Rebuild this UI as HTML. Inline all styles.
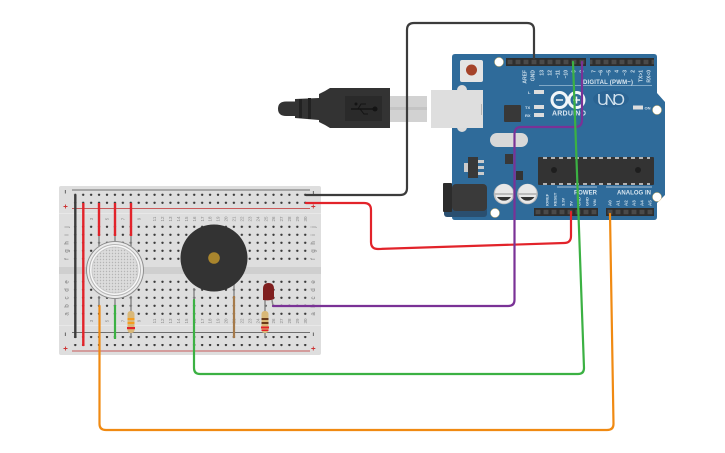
<!DOCTYPE html>
<html><head><meta charset="utf-8"><style>html,body{margin:0;padding:0;background:#fff}svg{display:block}text{font-family:"Liberation Sans",sans-serif}</style></head><body>
<svg width="725" height="453" viewBox="0 0 725 453" xmlns="http://www.w3.org/2000/svg">
<defs>
<pattern id="h1" x="71.3" y="0" width="7.93" height="8" patternUnits="userSpaceOnUse"><circle cx="3.97" cy="2.8" r="1.2" fill="#3a3a3a"/></pattern>
<pattern id="h2" x="71.3" y="0" width="7.93" height="8" patternUnits="userSpaceOnUse"><circle cx="3.97" cy="1.8" r="1.2" fill="#3a3a3a"/></pattern>
<pattern id="h3" x="71.3" y="0" width="7.93" height="8" patternUnits="userSpaceOnUse"><circle cx="3.97" cy="1" r="1.2" fill="#3a3a3a"/></pattern>
<pattern id="pin" x="506" y="58" width="8" height="8" patternUnits="userSpaceOnUse"><rect x="1.6" y="1.8" width="4.8" height="4.4" fill="#4a4a4a"/></pattern>
<pattern id="pin2" x="534" y="208" width="8" height="8" patternUnits="userSpaceOnUse"><rect x="1.6" y="1.8" width="4.8" height="4.4" fill="#4a4a4a"/></pattern>
<pattern id="mesh" width="3" height="3" patternUnits="userSpaceOnUse"><rect width="3" height="3" fill="#dcdcdc"/><circle cx="1.5" cy="1.5" r=".7" fill="#b4b4b4"/></pattern>
</defs>

<!-- breadboard -->
<rect x="59" y="186" width="262" height="169" rx="2" fill="#dedede"/>
<rect x="59" y="213" width="262" height="1" fill="#e8e8e8"/>
<rect x="59" y="325" width="262" height="1" fill="#e8e8e8"/>
<rect x="59" y="267" width="262" height="7" fill="#cfcfcf"/>
<rect x="71" y="192" width="240" height="16" fill="url(#h1)"/>
<rect x="71" y="224" width="240" height="40" fill="url(#h1)"/>
<rect x="71" y="280" width="240" height="40" fill="url(#h2)"/>
<rect x="71" y="335" width="240" height="12" fill="url(#h3)"/>
<path d="M72 190H310" stroke="#6f6f6f" stroke-width="1"/>
<path d="M72 208.500H310" stroke="#c85a5a" stroke-width="1"/>
<path d="M72 332.500H310" stroke="#6f6f6f" stroke-width="1"/>
<path d="M72 351H310" stroke="#c85a5a" stroke-width="1"/>
<path d="M65.300 190V193.500M313.300 191V194.500M65.300 332.500V336M313.300 332.500V336" stroke="#444" stroke-width=".8"/>
<path d="M63.500 206.500H67.500M65.500 204.500V208.500M311.300 206.500H315.300M313.300 204.500V208.500M63.500 348.500H67.500M65.500 346.500V350.500M311.300 348.500H315.300M313.300 346.500V350.500" stroke="#c33" stroke-width=".9"/>
<g font-size="6" fill="#777" text-anchor="middle">
<text transform="translate(68.500,227) rotate(-90)">j</text><text transform="translate(68.500,235) rotate(-90)">i</text><text transform="translate(68.500,243) rotate(-90)">h</text><text transform="translate(68.500,251) rotate(-90)">g</text><text transform="translate(68.500,259) rotate(-90)">f</text>
<text transform="translate(68.500,282) rotate(-90)">e</text><text transform="translate(68.500,290) rotate(-90)">d</text><text transform="translate(68.500,298) rotate(-90)">c</text><text transform="translate(68.500,306) rotate(-90)">b</text><text transform="translate(68.500,314) rotate(-90)">a</text>
<text transform="translate(315,227) rotate(-90)">j</text><text transform="translate(315,235) rotate(-90)">i</text><text transform="translate(315,243) rotate(-90)">h</text><text transform="translate(315,251) rotate(-90)">g</text><text transform="translate(315,259) rotate(-90)">f</text>
<text transform="translate(315,282) rotate(-90)">e</text><text transform="translate(315,290) rotate(-90)">d</text><text transform="translate(315,298) rotate(-90)">c</text><text transform="translate(315,306) rotate(-90)">b</text><text transform="translate(315,314) rotate(-90)">a</text>
</g>
<g font-size="4.500" fill="#888" text-anchor="middle">
<text transform="translate(92.800,219) rotate(-90)">3</text><text transform="translate(108.600,219) rotate(-90)">5</text><text transform="translate(124.500,219) rotate(-90)">7</text><text transform="translate(140.300,219) rotate(-90)">9</text><text transform="translate(156.200,219) rotate(-90)">11</text><text transform="translate(164.100,219) rotate(-90)">12</text><text transform="translate(172,219) rotate(-90)">13</text><text transform="translate(180,219) rotate(-90)">14</text><text transform="translate(187.900,219) rotate(-90)">15</text><text transform="translate(195.900,219) rotate(-90)">16</text><text transform="translate(203.800,219) rotate(-90)">17</text><text transform="translate(211.700,219) rotate(-90)">18</text><text transform="translate(219.700,219) rotate(-90)">19</text><text transform="translate(227.600,219) rotate(-90)">20</text><text transform="translate(235.500,219) rotate(-90)">21</text><text transform="translate(243.500,219) rotate(-90)">22</text><text transform="translate(251.400,219) rotate(-90)">23</text><text transform="translate(259.300,219) rotate(-90)">24</text><text transform="translate(267.300,219) rotate(-90)">25</text><text transform="translate(275.200,219) rotate(-90)">26</text><text transform="translate(283.100,219) rotate(-90)">27</text><text transform="translate(291.100,219) rotate(-90)">28</text><text transform="translate(299,219) rotate(-90)">29</text><text transform="translate(306.900,219) rotate(-90)">30</text>
<text transform="translate(92.800,321) rotate(-90)">3</text><text transform="translate(108.600,321) rotate(-90)">5</text><text transform="translate(124.500,321) rotate(-90)">7</text><text transform="translate(140.300,321) rotate(-90)">9</text><text transform="translate(156.200,321) rotate(-90)">11</text><text transform="translate(164.100,321) rotate(-90)">12</text><text transform="translate(172,321) rotate(-90)">13</text><text transform="translate(180,321) rotate(-90)">14</text><text transform="translate(187.900,321) rotate(-90)">15</text><text transform="translate(195.900,321) rotate(-90)">16</text><text transform="translate(203.800,321) rotate(-90)">17</text><text transform="translate(211.700,321) rotate(-90)">18</text><text transform="translate(219.700,321) rotate(-90)">19</text><text transform="translate(227.600,321) rotate(-90)">20</text><text transform="translate(235.500,321) rotate(-90)">21</text><text transform="translate(243.500,321) rotate(-90)">22</text><text transform="translate(251.400,321) rotate(-90)">23</text><text transform="translate(259.300,321) rotate(-90)">24</text><text transform="translate(267.300,321) rotate(-90)">25</text><text transform="translate(275.200,321) rotate(-90)">26</text><text transform="translate(283.100,321) rotate(-90)">27</text><text transform="translate(291.100,321) rotate(-90)">28</text><text transform="translate(299,321) rotate(-90)">29</text><text transform="translate(306.900,321) rotate(-90)">30</text>
</g>

<!-- arduino board -->
<path d="M455 54H654Q657 54 657 57V93L665 102V195L657 203V217Q657 220 654 220H455Q452 220 452 217V57Q452 54 455 54Z" fill="#2f6b9a"/>
<circle cx="499" cy="62" r="4.500" fill="#fff" stroke="#dcb96a" stroke-width=".5"/>
<circle cx="657" cy="110" r="4.500" fill="#fff" stroke="#dcb96a" stroke-width=".5"/>
<circle cx="657" cy="197" r="4.500" fill="#fff" stroke="#dcb96a" stroke-width=".5"/>
<circle cx="495" cy="213" r="4.500" fill="#fff" stroke="#dcb96a" stroke-width=".5"/>
<rect x="506" y="58" width="80" height="8" fill="#2e2e2e"/><rect x="506" y="58" width="80" height="8" fill="url(#pin)"/>
<rect x="590" y="58" width="64" height="8" fill="#2e2e2e"/><rect x="590" y="58" width="64" height="8" fill="url(#pin)"/>
<rect x="534" y="208" width="64" height="8" fill="#2e2e2e"/><rect x="534" y="208" width="64" height="8" fill="url(#pin2)"/>
<rect x="606" y="208" width="48" height="8" fill="#2e2e2e"/><rect x="606" y="208" width="48" height="8" fill="url(#pin2)"/>

<!-- reset -->
<rect x="460" y="60" width="23" height="22" rx="2" fill="#e4e4e4"/>
<circle cx="471.500" cy="70" r="5.500" fill="#a5432a"/>
<!-- usb socket -->
<rect x="457" y="85" width="10" height="47" rx="5" fill="#dcdcdc"/>
<rect x="431" y="90" width="52" height="38" fill="#dedede"/>
<rect x="481" y="104" width=".8" height="11" fill="#aaa"/>
<!-- usb cable -->
<rect x="390" y="96" width="37" height="26" fill="#d2d2d2"/>
<rect x="390" y="107" width="37" height="3" fill="#c4c4c4"/>
<path d="M325 91L330 88H390V128H330L325 125L319 122V94Z" fill="#333"/>
<rect x="345" y="96" width="37" height="25" fill="#2a2a2a"/>
<path d="M351 109H374" stroke="#141414" stroke-width="1.500"/><circle cx="375" cy="109" r="2.500" fill="#141414"/><circle cx="356" cy="104" r="1.500" fill="#141414"/>
<path d="M358 109L361 104H366M360 109L364 114H368" stroke="#141414" fill="none"/>
<path d="M319 98V120L295 118V99Z" fill="#333"/>
<rect x="308" y="98" width="3" height="21" fill="#222"/><rect x="299" y="99" width="3" height="19" fill="#222"/>
<path d="M296 101.500H286Q278 101.500 278 108.800Q278 116 286 116H296Z" fill="#333"/>

<!-- board components -->
<rect x="504" y="105" width="17" height="17" rx="1" fill="#383838"/>
<rect x="490" y="133" width="38" height="14" rx="7" fill="#d8d8d8"/>
<rect x="505" y="154" width="8" height="10" fill="#383838"/>
<rect x="464" y="163" width="5" height="9" fill="#ccc"/>
<rect x="468" y="157" width="10" height="21" fill="#383838"/>
<rect x="478" y="160" width="6" height="3" fill="#ccc"/><rect x="478" y="166" width="6" height="3" fill="#ccc"/><rect x="478" y="172" width="6" height="3" fill="#ccc"/>
<rect x="516" y="171" width="7" height="9" fill="#333"/>
<rect x="444" y="205" width="43" height="12" rx="3" fill="#2a4f70"/>
<rect x="443" y="183" width="9" height="29" rx="1" fill="#2c2c2c"/>
<rect x="452" y="184" width="35" height="27" rx="4" fill="#3a3a3a"/>
<circle cx="504" cy="194" r="10.300" fill="#bdbdbd"/><path d="M495 193A9 9 0 0 1 513 193Z" fill="#e8e8e8"/><path d="M495.500 195A8.500 8.500 0 0 0 512.500 195Z" fill="#e8e8e8"/><path d="M497 197A8.500 8.500 0 0 0 511 197Z" fill="#333"/>
<circle cx="527.500" cy="194" r="10.300" fill="#bdbdbd"/><path d="M518.500 193A9 9 0 0 1 536.500 193Z" fill="#e8e8e8"/><path d="M519 195A8.500 8.500 0 0 0 536 195Z" fill="#e8e8e8"/><path d="M520.500 197A8.500 8.500 0 0 0 534.500 197Z" fill="#333"/>
<rect x="538" y="157" width="116" height="28" rx="1" fill="#333"/>
<path d="M543 158H650M543 184H650" stroke="#ddd" stroke-width="1.500" stroke-dasharray="4 4"/>
<circle cx="554" cy="170" r="3" fill="#1e1e1e"/><circle cx="638" cy="170" r="3" fill="#1e1e1e"/>
<rect x="534" y="90" width="10" height="4" fill="#ddd"/><rect x="534" y="105" width="10" height="4" fill="#ddd"/><rect x="534" y="113" width="10" height="4" fill="#ddd"/>
<rect x="633" y="105.500" width="10" height="4" fill="#ddd"/>
<path d="M539 85.500H652" stroke="#9dbdd4" stroke-width=".8"/>
<path d="M557 187H597M606 187H652" stroke="#cfe0ec" stroke-width=".8"/>
<g fill="#d9e6f0" font-weight="bold">
<text x="583" y="84" font-size="6" textLength="50">DIGITAL (PWM~)</text>
<text x="574" y="194.500" font-size="6" textLength="23">POWER</text>
<text x="617" y="194.500" font-size="6" textLength="34">ANALOG IN</text>
<text x="528" y="94" font-size="4">L</text>
<text x="525" y="109" font-size="4">TX</text><text x="525" y="117" font-size="4">RX</text>
<text x="644.500" y="109.500" font-size="4">ON</text>
<text x="552" y="115.500" font-size="7" textLength="34">ARDUINO</text>
</g>
<ellipse cx="611" cy="99" rx="18" ry="8.500" fill="#2a6392"/>
<text x="597" y="105" font-size="16" fill="#d0e0ec" textLength="28">UNO</text>
<g fill="none" stroke="#f1f5f8" stroke-width="3">
<circle cx="559.500" cy="100" r="7.500"/><circle cx="576.500" cy="100" r="7.500"/>
</g>
<path d="M556 100H563M573 100H580M576.500 96.500V103.500" stroke="#f1f5f8" stroke-width="1.500"/>
<g fill="#cfe0ec" font-size="5" font-weight="bold" text-anchor="end">
<text transform="translate(526.600,70) rotate(-90)">AREF</text><text transform="translate(534.600,70) rotate(-90)">GND</text>
<text transform="translate(543.600,70) rotate(-90)">13</text><text transform="translate(551.600,70) rotate(-90)">12</text>
<text transform="translate(559.600,70) rotate(-90)">~11</text><text transform="translate(567.600,70) rotate(-90)">~10</text>
<text transform="translate(575.600,70) rotate(-90)">~9</text><text transform="translate(583.600,70) rotate(-90)">8</text>
<text transform="translate(595.600,70) rotate(-90)">7</text><text transform="translate(602.600,70) rotate(-90)">~6</text>
<text transform="translate(610.600,70) rotate(-90)">~5</text><text transform="translate(618.600,70) rotate(-90)">4</text>
<text transform="translate(626.600,70) rotate(-90)">~3</text><text transform="translate(634.600,70) rotate(-90)">2</text>
<text transform="translate(642.600,70) rotate(-90)">TX&gt;1</text><text transform="translate(650.600,70) rotate(-90)">RX&lt;0</text>
</g>
<g fill="#cfe0ec" font-size="4.500" font-weight="bold">
<text transform="translate(548.600,206) rotate(-90)" font-size="4">IOREF</text><text transform="translate(556.600,206) rotate(-90)" font-size="4">RESET</text>
<text transform="translate(564.600,206) rotate(-90)" font-size="4">3.3V</text><text transform="translate(572.600,206) rotate(-90)" font-size="4">5V</text>
<text transform="translate(580.600,206) rotate(-90)" font-size="4">GND</text><text transform="translate(588.600,206) rotate(-90)" font-size="4">GND</text>
<text transform="translate(596,206) rotate(-90)" font-size="4">VIN</text>
<text transform="translate(611.600,206) rotate(-90)">A0</text><text transform="translate(619.600,206) rotate(-90)">A1</text>
<text transform="translate(627.600,206) rotate(-90)">A2</text><text transform="translate(635.600,206) rotate(-90)">A3</text>
<text transform="translate(643.600,206) rotate(-90)">A4</text><text transform="translate(651.600,206) rotate(-90)">A5</text>
</g>

<!-- breadboard short wires -->
<path d="M75.300 195V338" stroke="#3c3c3c" stroke-width="2.400"/>
<path d="M83.300 203V346" stroke="#e2232a" stroke-width="2.400"/>
<path d="M99 203V236M115 203V236M131 203V236" stroke="#e2232a" stroke-width="2.400"/>
<path d="M99 236V246M115 236V246M131 236V246M99 296V306M115 296V306M131 296V312" stroke="#8a8a8a" stroke-width="1.500"/>
<path d="M115 305V339" stroke="#3bb143" stroke-width="2.200"/>
<path d="M131 328V338" stroke="#8a8a8a" stroke-width="1.500"/>
<path d="M234 296V338" stroke="#a57a4a" stroke-width="2.200"/>
<path d="M194 288V300" stroke="#8a8a8a" stroke-width="1.500"/>
<path d="M234 284V296" stroke="#8a8a8a" stroke-width="1.500"/>

<!-- sensor -->
<circle cx="115" cy="270" r="29" fill="#8e8e8e"/>
<circle cx="115" cy="270" r="28" fill="#ececec"/>
<circle cx="115" cy="270" r="25.500" fill="#f7f7f7" stroke="#b5b5b5"/>
<circle cx="115" cy="270" r="23" fill="url(#mesh)" stroke="#c8c8c8"/>

<!-- resistor 1 -->
<rect x="127.500" y="311" width="7" height="22" rx="3" fill="#d9b878"/>
<rect x="127.500" y="318" width="7" height="2" fill="#f39c1f"/><rect x="127.500" y="322" width="7" height="2" fill="#f39c1f"/><rect x="127" y="327" width="8" height="2.200" fill="#e2232a"/>

<!-- buzzer -->
<circle cx="214" cy="258" r="33.500" fill="#333"/>
<circle cx="214" cy="258" r="5.800" fill="#a9852d"/>

<!-- led + resistor 2 -->
<path d="M265 300V314M272 300L273 306" stroke="#8a8a8a" stroke-width="1.500"/>
<path d="M263 300V289Q263 283 268.500 283Q274 283 274 289V299Q270 301 263 300Z" fill="#7f1f1f"/>
<path d="M265 328V338" stroke="#8a8a8a" stroke-width="1.500"/>
<rect x="261.500" y="311" width="7" height="22" rx="3" fill="#d9b878"/>
<rect x="261.500" y="318" width="7" height="2" fill="#6b3b1a"/><rect x="261.500" y="322" width="7" height="2" fill="#6b3b1a"/><rect x="261" y="326.500" width="8" height="2" fill="#e2232a"/><rect x="261.500" y="329.500" width="7" height="1.500" fill="#e2232a"/>

<!-- long wires -->
<g fill="none" stroke-width="2.200" stroke-linecap="round">
<path d="M306 195H400Q407 195 407 188V30Q407 23 414 23H527Q534 23 534 30V58" stroke="#3c3c3c"/>
<path d="M306 203H364Q371 203 371 210V242Q371 249 378 249L564 243Q571 243 571 236V212" stroke="#e2232a"/>
<path d="M273 306H508Q514.500 306 514.500 300V134Q514.500 127 521 127H575Q582 127 582 120V62" stroke="#7a3296"/>
<path d="M194 300V368Q194 374 200 374H578Q584 374 584 368L573 62" stroke="#3bb143"/>
<path d="M99.500 306V424Q99.500 430 106 430H607Q613.500 430 613.500 424L610 214" stroke="#f08a12"/>
</g>
</svg>
</body></html>
